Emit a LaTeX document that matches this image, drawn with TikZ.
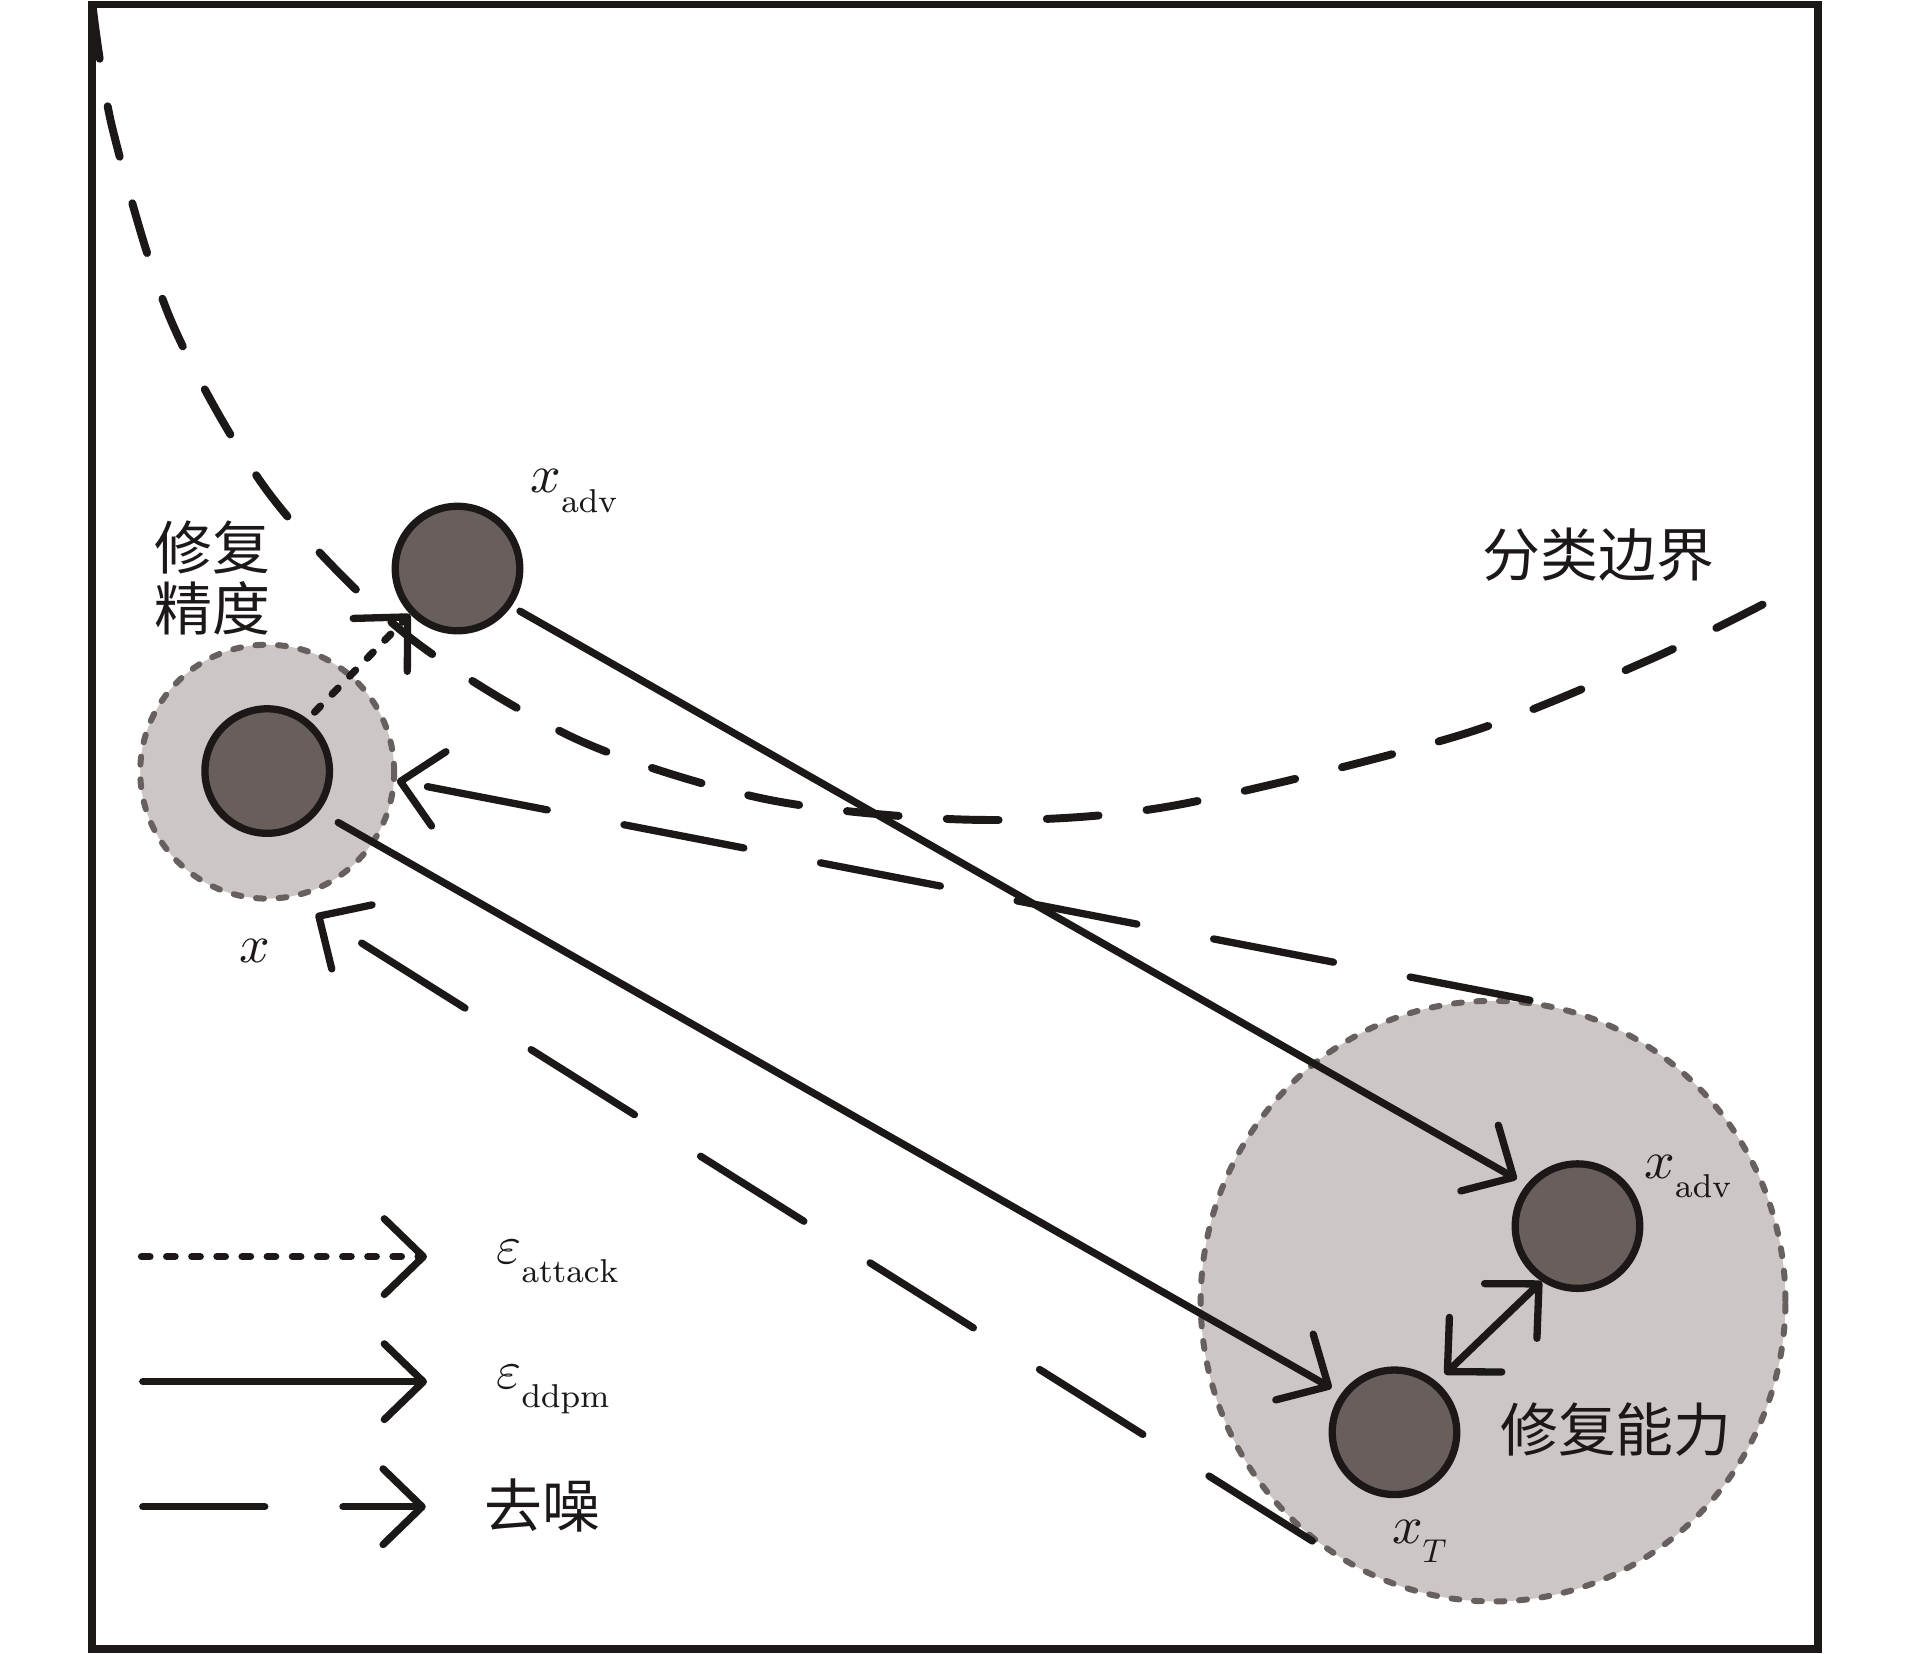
\documentclass[tikz,border=0pt]{standalone}
\usepackage{amsmath}
\usepackage{amssymb}
\usepackage{fontspec}
\newfontfamily\cjk{Noto Sans CJK SC}
\usepackage{tikz}
\usetikzlibrary{arrows.meta,shapes.geometric}
\DeclareFontShape{OML}{cmm}{m}{it}{<->cmmi10}{}
\DeclareMathSizes{12.5}{12.5}{7.7}{6}

\definecolor{ink}{HTML}{1C1818}
\definecolor{dotfill}{HTML}{685F5C}
\definecolor{halofill}{HTML}{CCC6C4}
\definecolor{rim}{HTML}{67605E}

\newcommand{\lowsub}[2]{$#1_{\raisebox{-2.7pt}{$\scriptstyle #2$}}$}

\begin{document}
\begin{tikzpicture}[x=0.01cm, y=-0.01cm, line width=1.7pt, color=ink,
  >={Straight Barb[length=0.32cm,width=0.62cm,round]},
  point/.style={circle, draw=ink, fill=dotfill, line width=1.7pt, minimum size=1.02cm, inner sep=0pt},
  haloring/.style={draw=rim, fill=halofill, line width=1.4pt, line cap=round, dash pattern=on 0.065cm off 0.12cm, inner sep=0pt},
  attack/.style={->, line cap=round, dash pattern=on 0.069cm off 0.137cm},
  ddpm/.style={->, line cap=round},
  denoise/.style={->, line cap=round, dash pattern=on 1.0cm off 0.64cm},
  bound/.style={line width=1.85pt, line cap=round, dash pattern=on 0.425cm off 0.395cm},
  lab/.style={inner sep=0pt, anchor=base west, font=\fontsize{12.5}{15}\selectfont},
  cjklab/.style={inner sep=0pt, align=center, font=\cjk\fontsize{13.5}{14.2}\selectfont}]
  \useasboundingbox (0,0) rectangle (1568,1355.7);
  \draw[line width=1.8pt] (75.7,3.8) rectangle (1490.2,1351.4);
  % classification boundary
  \draw[bound] plot[smooth] coordinates {(76,6) (92.6,107) (140.5,263.5) (221,405) (334,521) (474,606.5) (630,655.5) (800,672) (960,660.7) (1197,602.5) (1350.5,541.4) (1446.7,494.5)};
  \node[haloring, circle, minimum size=2.08cm] (bigx) at (219,632.5) {};
  \node[haloring, ellipse, minimum width=4.79cm, minimum height=4.92cm] (bigadv) at (1223.8,1066.5) {};
  % arrows
  \draw[denoise] (bigadv.83) -- (bigx.-4);
  \draw[denoise, shorten >=0.23cm] (bigadv.233) -- (bigx.281);
  \node[point] (xclean) at (219,632) {};
  \node[point] (xadv) at (375,466) {};
  \node[point] (xadvr) at (1293,1005) {};
  \node[point] (xT) at (1143,1174) {};
  \draw[attack, shorten <=0.08cm] (xclean.52) -- (xadv.224);
  \draw[ddpm, shorten <=0.08cm, shorten >=0.09cm] (xadv.-35) -- (xadvr.141);
  \draw[ddpm, shorten <=0.18cm, shorten >=0.09cm] (xclean.-38) -- (xT.144);
  \draw[<->, line cap=round, shorten <=0.09cm] (xT.50) -- (xadvr.237);
  % labels
  \node[lab] (lxadv) at (432,404) {\lowsub{x}{\mathrm{adv}}};
  \node[lab] (lx) at (193,789) {$x$};
  \node[lab] (lxadvr) at (1345,966) {\lowsub{x}{\mathrm{adv}}};
  \node[lab] (lxT) at (1138,1265) {\lowsub{x}{T}};
  \node[cjklab] (acc) at (174,474) {修复\\精度};
  \node[cjklab] (bnd) at (1310,455) {分类边界};
  \node[cjklab] (cap) at (1324.5,1172) {修复能力};
  % legend
  \coordinate (la1) at (116,1030);
  \coordinate (la2) at (350,1030);
  \coordinate (lb1) at (117,1132.5);
  \coordinate (lb2) at (350,1132.5);
  \coordinate (lc1) at (117,1235);
  \coordinate (lc2) at (349,1235);
  \draw[attack] (la1) -- (la2);
  \draw[ddpm] (lb1) -- (lb2);
  \draw[denoise] (lc1) -- (lc2);
  \node[lab] (latk) at (404,1035.5) {\lowsub{\varepsilon}{\mathrm{attack}}};
  \node[lab] (lddpm) at (404,1138) {\lowsub{\varepsilon}{\mathrm{ddpm}}};
  \node[cjklab] (lden) at (445,1234) {去噪};
\end{tikzpicture}
\end{document}
